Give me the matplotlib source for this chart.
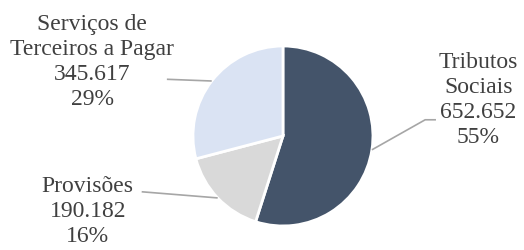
import numpy as np
import matplotlib.pyplot as plt

labels = ["Tributos\nSociais", "Provisões", "Serviços de\nTerceiros a Pagar"]
values = [652652, 190182, 345617]
colors = ["#44546a", "#d9d9d9", "#dae3f3"]

plt.rcParams['font.family'] = ['Liberation Serif', 'DejaVu Serif']

fig = plt.figure(figsize=(5.24, 2.5), dpi=100)
ax = fig.add_axes([0, 0, 1, 1])

wedges, _ = ax.pie(values, colors=colors, startangle=90, counterclock=False,
                   radius=1, center=(0, 0),
                   wedgeprops=dict(edgecolor="white", linewidth=2))

ax.set_xlim(-3.144, 2.678)
ax.set_ylim(-1.267, 1.511)
ax.set_aspect("equal")
ax.axis("off")

total = sum(values)
# label centre, leader elbow points (data units, radius = 1)
text_pos = [(2.17, 0.40), (-2.17, -0.84), (-2.12, 0.82)]
leaders = [[(1.58, 0.18), (1.70, 0.18)],
           [(-1.57, -0.62)],
           [(-1.29, 0.63)]]

for w, lab, v, tp, ld in zip(wedges, labels, values, text_pos, leaders):
    mid = np.deg2rad((w.theta1 + w.theta2) / 2)
    edge = (np.cos(mid), np.sin(mid))
    pts = [edge] + ld
    xs = [p[0] for p in pts]
    ys = [p[1] for p in pts]
    ax.plot(xs, ys, color="#a6a6a6", lw=1.2, solid_capstyle="butt")
    num = f"{v:,}".replace(",", ".")
    pct = f"{round(v / total * 100)}%"
    ax.text(tp[0], tp[1], f"{lab}\n{num}\n{pct}", ha="center", va="center",
            fontsize=17, color="#404040", linespacing=1.25)

fig.savefig("out.png", dpi=100)
